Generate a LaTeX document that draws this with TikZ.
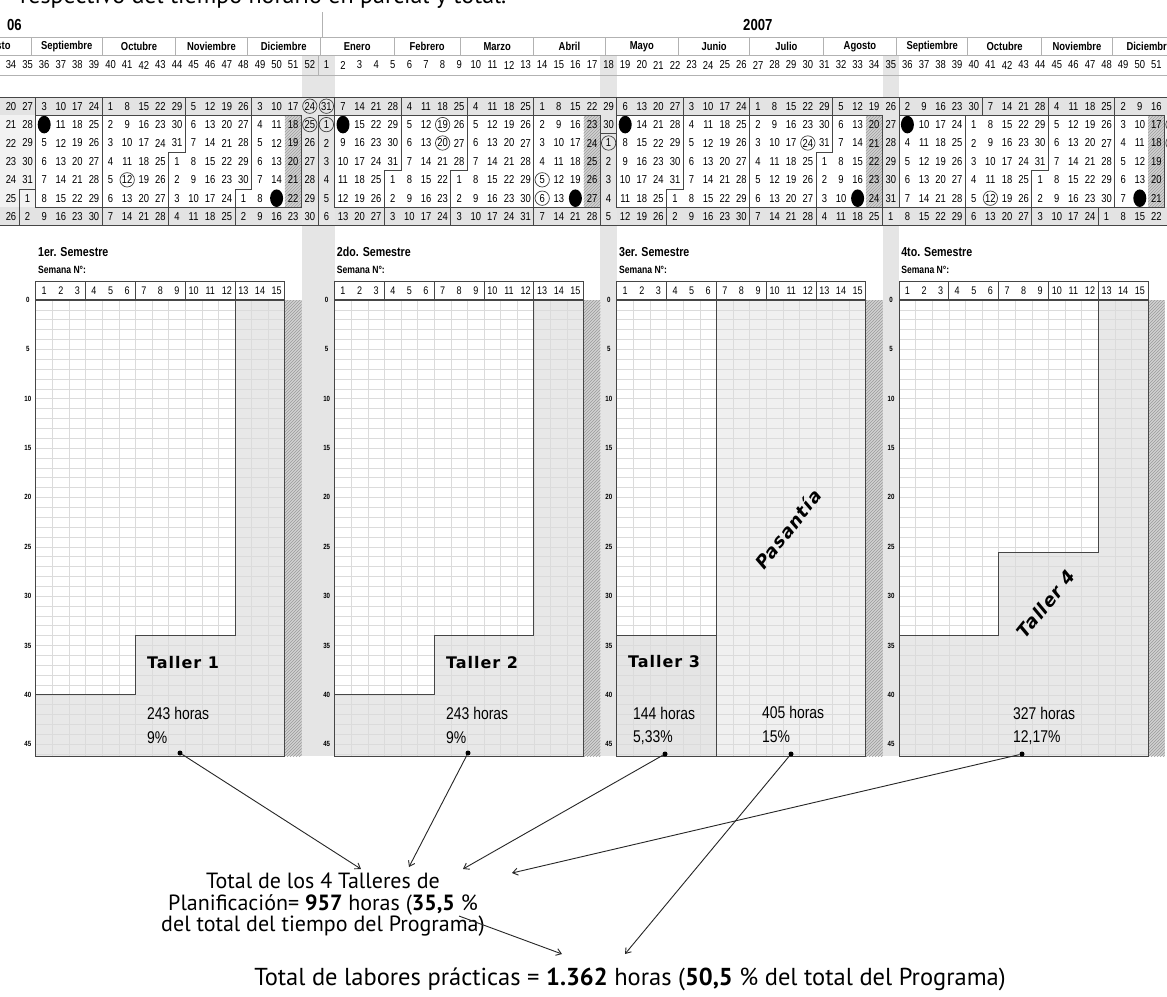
\documentclass[tikz,border=0pt]{standalone}
\usepackage{fontspec}
\setmainfont{Liberation Sans}
\newfontfamily\nar[FakeStretch=0.82]{Liberation Sans}
\newfontfamily\wid[LetterSpace=6]{DejaVu Sans}
\newfontfamily\gil{PT Sans}
\usetikzlibrary{patterns,calendar,arrows.meta}
\newcount\jst
\pgfcalendardatetojulian{2006-08-20}{\jst}
\newcommand\chartgrid[2]{%
  \pgfmathsetmacro\xe{#1+249}
  \foreach \k in {1,...,46} {\draw[gl] (#1,300+9.87*\k) -- (\xe,300+9.87*\k);}
  \foreach \k in {1,...,14} {\draw[gl] (#1+16.6*\k,300) -- (#1+16.6*\k,756);}
  \fill[gray!35] (\xe,300) rectangle (\xe+16.6,756);
  \fill[pattern=north east lines, pattern color=gray!80] (\xe,300) rectangle (\xe+16.6,756);
  \draw[frame] (#1,300) -- (#1,756) -- (\xe,756) -- (\xe,300);
  \fill[white] (#1,281) rectangle (\xe,300);
  \draw[frame] (#1,281) rectangle (\xe,300);
  \draw[frame, line width=1.6pt] (#1,300) -- (\xe,300);
  \foreach \k in {3,6,9,12} {\draw[frame] (#1+16.6*\k,281) -- (#1+16.6*\k,300);}
  \foreach \k in {1,...,15} {\node[hn] at (#1+16.6*\k-8.3,290.5) {\k};}
  \foreach \k in {0,5,...,45} {\node[yl] at (#1-8,300+9.87*\k) {\k};}
  \node[sem] at (#1+2,252) {#2};
  \node[semn] at (#1+2,270) {Semana N°:};
}
\begin{document}
\begin{tikzpicture}[x=1pt,y=-1pt,
  dn/.style={font=\nar\fontsize{11.5}{11.5}\selectfont, inner sep=0},
  mn/.style={font=\nar\bfseries\fontsize{11.5}{11.5}\selectfont, inner sep=0},
  hn/.style={font=\nar\fontsize{11}{11}\selectfont, inner sep=0},
  yl/.style={font=\nar\bfseries\fontsize{7.5}{7.5}\selectfont, inner sep=0},
  sem/.style={font=\nar\bfseries\fontsize{13}{13}\selectfont, inner sep=0, anchor=west},
  semn/.style={font=\nar\bfseries\fontsize{10.5}{10.5}\selectfont, inner sep=0, anchor=west},
  yr/.style={font=\nar\bfseries\fontsize{16}{16}\selectfont, inner sep=0, anchor=west},
  tall/.style={font=\wid\bfseries\fontsize{16}{16}\selectfont, inner sep=0},
  talli/.style={font=\wid\bfseries\itshape\fontsize{18}{18}\selectfont, inner sep=0},
  hrs/.style={font=\nar\fontsize{17}{17}\selectfont, inner sep=0, anchor=west},
  gl/.style={gray!28, line width=0.5pt},
  frame/.style={gray!55!black, line width=1pt},
  hl/.style={gray!60, line width=0.9pt},
  mline/.style={gray!55!black, line width=0.9pt},
  band/.style={fill=gray!20},
  hol/.style={draw=black!75, line width=0.7pt},
  dot/.style={circle, fill=black, inner sep=0, minimum size=5pt},
  arr/.style={-{Straight Barb[length=5pt,width=7pt]}, line width=0.9pt, black!85},
  gb/.style={font=\gil\fontsize{22}{21.5}\selectfont, inner sep=0, align=center},
  gbb/.style={font=\gil\fontsize{24.5}{24.5}\selectfont, inner sep=0}]
\useasboundingbox (0,0) rectangle (1167,996);
\fill[white] (0,0) rectangle (1167,996);
\begin{scope}
\clip (0,0) rectangle (1167,996);
% title strip (cut at top)
\node[anchor=base west, font=\gil\fontsize{24}{24}\selectfont, inner sep=0] (title) at (20,3.5) {respectivo del tiempo horario en parcial y total.};
% years
\node[yr] (y06) at (7,25) {06};
\node[yr] (y07) at (743,25) {2007};
\draw[hl, line width=1pt] (322,12) -- (322,37);
% calendar body backgrounds
\fill[gray!10] (0,97) rectangle (1167,225.8);
\fill[gray!22] (0,97) rectangle (1167,115.4);
\fill[gray!22] (0,207.4) rectangle (1167,225.8);
\foreach \a/\b in {2/18,20/36,37/53,54/70}{
  \pgfmathsetmacro\xa{2.7+16.6*\a}\pgfmathsetmacro\xb{2.7+16.6*\b}
  \fill[white] (\xa,115.4) rectangle (\xb,207.4);
}
% bands
\foreach \a/\b in {301.5/334.7, 600.3/616.9, 882.5/899.1}{
  \fill[band] (\a,55) rectangle (\b,756);
}
% hatched calendar cells
\foreach \c in {17,35,52,69}{
  \pgfmathsetmacro\xa{2.7+16.6*\c}
  \fill[gray!35] (\xa,115.4) rectangle ++(16.6,92);
  \fill[pattern=north east lines, pattern color=gray!75] (\xa,115.4) rectangle ++(16.6,92);
}
% filled marks
\foreach \c/\r in {2/1,16/5,20/1,34/5,37/1,51/5,54/1,68/5}{
  \fill[black] (11+16.6*\c,106.2+18.4*\r) ellipse [x radius=6.5pt, y radius=8.8pt];
}
% day numbers
\foreach \i in {0,...,70}{
  \foreach \r in {0,...,6}{
    \pgfmathsetmacro\xc{11+16.6*\i}
    \pgfmathsetmacro\yc{106.2+18.4*\r}
    \edef\jd{\the\numexpr\jst+7*\i+\r\relax}
    \pgfcalendarjuliantodate{\jd}{\yy}{\mm}{\dd}
    \node[dn] (d-\i-\r) at (\xc,\yc) {\number\numexpr\dd\relax};
  }
}
% holiday circles
\foreach \c/\r in {7/4,18/0,18/1,19/0,19/1,26/1,26/2,32/4,32/5,36/2,48/2,59/5,70/1,70/2}{
  \draw[hol] (11+16.6*\c,106.2+18.4*\r) circle [radius=7.2pt];
}
% month staircases
\foreach \c/\r in {1/5,6/0,10/3,14/5,19/1,23/4,27/4,32/0,36/2,40/5,45/0,49/3,53/6,58/1,62/4,66/6}{
  \pgfmathsetmacro\xa{2.7+16.6*\c}
  \pgfmathsetmacro\xb{\xa+16.6}
  \pgfmathsetmacro\ym{97+18.4*\r}
  \draw[mline] (\xb,97) -- (\xb,\ym) -- (\xa,\ym) -- (\xa,225.8);
}
% semester boxes
\foreach \a/\b in {2/18,20/36,37/53,54/70}{
  \pgfmathsetmacro\xa{2.7+16.6*\a}\pgfmathsetmacro\xb{2.7+16.6*\b}
  \draw[mline] (\xa,115.4) rectangle (\xb,207.4);
}
\draw[mline] (0,97) -- (1167,97);
\draw[mline] (0,225.8) -- (1167,225.8);
% month header
\draw[hl] (0,37) -- (1167,37);
\draw[hl] (0,55) -- (1167,55);
\draw[hl] (0,75) -- (1167,75);
\draw[hl] (318.1,55) -- (318.1,75);
\foreach \a/\b/\n in {-19/12/Agosto, 12/42/Septiembre, 42/73/Octubre, 73/103/Noviembre, 103/134/Diciembre, 134/165/Enero, 165/193/Febrero, 193/224/Marzo, 224/254/Abril, 254/285/Mayo, 285/315/Junio, 315/346/Julio, 346/377/Agosto, 377/407/Septiembre, 407/438/Octubre, 438/468/Noviembre, 468/499/Diciembre}{
  \pgfmathsetmacro\xa{2.7+2.37143*\a}
  \pgfmathsetmacro\xm{2.7+2.37143*(\a+\b)/2}
  \draw[hl] (\xa,37) -- (\xa,55);
  \node[mn] at (\xm,46.5) {\n};
}
% week numbers
\foreach \i in {0,...,70}{
  \pgfmathtruncatemacro\wk{\i<19 ? 34+\i : \i-18}
  \node[dn] (w-\i) at (11+16.6*\i,65) {\wk};
}
% ---------- charts ----------
% chart 1
\fill[gray!18] (35.9,300) rectangle (284.9,756);
\fill[white] (35.9,300) -- (235.1,300) -- (235.1,635.6) -- (135.5,635.6) -- (135.5,694.8) -- (35.9,694.8) -- cycle;
\chartgrid{35.9}{1er. Semestre}
\draw[frame] (235.1,300) -- (235.1,635.6) -- (135.5,635.6) -- (135.5,694.8) -- (35.9,694.8);
% chart 2
\fill[gray!18] (334.7,300) rectangle (583.7,756);
\fill[white] (334.7,300) -- (533.9,300) -- (533.9,635.6) -- (434.3,635.6) -- (434.3,694.8) -- (334.7,694.8) -- cycle;
\chartgrid{334.7}{2do. Semestre}
\draw[frame] (533.9,300) -- (533.9,635.6) -- (434.3,635.6) -- (434.3,694.8) -- (334.7,694.8);
% chart 3
\fill[gray!12] (616.9,300) rectangle (865.9,756);
\fill[gray!20] (616.9,635.6) rectangle (716.5,756);
\fill[white] (616.9,300) rectangle (716.5,635.6);
\chartgrid{616.9}{3er. Semestre}
\draw[frame] (616.9,635.6) -- (716.5,635.6);
\draw[frame] (716.5,300) -- (716.5,756);
% chart 4
\fill[gray!18] (899.1,300) rectangle (1148.1,756);
\fill[white] (899.1,300) -- (1098.3,300) -- (1098.3,552.7) -- (998.7,552.7) -- (998.7,635.6) -- (899.1,635.6) -- cycle;
\chartgrid{899.1}{4to. Semestre}
\draw[frame] (1098.3,300) -- (1098.3,552.7) -- (998.7,552.7) -- (998.7,635.6) -- (899.1,635.6);
% chart texts
\node[tall] (t1) at (183,663) {Taller 1};
\node[hrs] (h1t) at (147,713) {243 horas};
\node[hrs] (p1t) at (147,738) {9\%};
\node[tall] (t2) at (482,663) {Taller 2};
\node[hrs] (h2t) at (446,713) {243 horas};
\node[hrs] (p2t) at (446,738) {9\%};
\node[tall] (t3) at (664,662) {Taller 3};
\node[hrs] (h3t) at (633,713) {144 horas};
\node[hrs] (p3t) at (633,738) {5,33\%};
\node[talli, rotate=52] (tp) at (788,529) {Pasantía};
\node[hrs] (hpt) at (762,712) {405 horas};
\node[hrs] (ppt) at (762,737) {15\%};
\node[talli, rotate=51] (t4) at (1046,604) {Taller 4};
\node[hrs] (h4t) at (1013,713) {327 horas};
\node[hrs] (p4t) at (1013,738) {12,17\%};
% dots
\node[dot] (s1) at (180,753) {};
\node[dot] (s2) at (468,753) {};
\node[dot] (s3) at (665,754) {};
\node[dot] (sp) at (791,754) {};
\node[dot] (s4) at (1022,754) {};
% bottom texts
\node[gb] (tb) at (323,905) {Total de los 4 Talleres de\\Planificación= \textbf{957} horas (\textbf{35,5} \%\\del total del tiempo del Programa)};
\node[gbb] (bt) at (630,979) {Total de labores prácticas = \textbf{1.362} horas (\textbf{50,5} \% del total del Programa)};
\coordinate (e1) at (361,869);
\coordinate (e2) at (409,867);
\coordinate (e3) at (463,869);
\coordinate (e4) at (512,873);
\coordinate (s5) at (459,916);
\coordinate (e5) at (562,954);
\coordinate (e6) at (625,954);
\draw[arr] (s1) -- (e1);
\draw[arr] (s2) -- (e2);
\draw[arr] (s3) -- (e3);
\draw[arr] (s4) -- (e4);
\draw[arr] (s5) -- (e5);
\draw[arr] (sp) -- (e6);
\end{scope}
\end{tikzpicture}
\end{document}
